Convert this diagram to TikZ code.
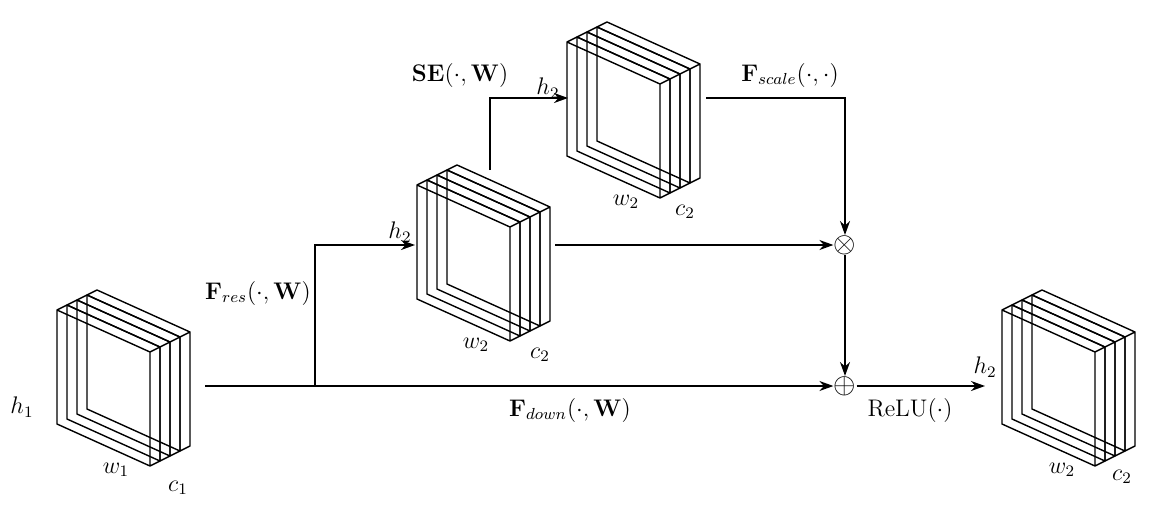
\documentclass[tikz,border=0pt]{standalone}
\usepackage{amsmath,amssymb}
\usetikzlibrary{arrows.meta}
\begin{document}
\begin{tikzpicture}[x=0.5pt,y=-0.5pt,
  ln/.style={line width=0.9pt},
  arr/.style={ln,-{Stealth[length=7pt,width=5pt]}},
  lab/.style={inner sep=1pt,font=\large},
  op/.style={inner sep=0pt,font=\Large}]
\useasboundingbox (0,0) rectangle (1150,504);
\newcommand{\slab}[2]{% top-left of front face
  \draw[line width=0.7pt,line join=round] (#1,#2) -- ++(93,42) -- ++(0,114) -- ++(-93,-42) -- cycle
    (#1,#2) -- ++(10,-5) -- ++(93,42) -- ++(-10,5)
    (#1+103,#2+37) -- ++(0,114) -- ++(-10,5);}
\newcommand{\stack}[2]{%
  \foreach \k in {3,2,1,0}{\slab{#1+2+10*\k}{#2+20-5*\k}}}
\stack{55}{290}
\stack{415}{165}
\stack{565}{22}
\stack{1000}{290}
\node[lab] (h1) at (22,407) {$h_1$};
\node[lab] (w1) at (116,470) {$w_1$};
\node[lab] (c1) at (178,488) {$c_1$};
\node[lab] (h2a) at (400,232) {$h_2$};
\node[lab] (w2a) at (476,345) {$w_2$};
\node[lab] (c2a) at (540,355) {$c_2$};
\node[lab] (h2b) at (548,88) {$h_2$};
\node[lab] (w2b) at (626,202) {$w_2$};
\node[lab] (c2b) at (685,212) {$c_2$};
\node[lab] (h2c) at (985,367) {$h_2$};
\node[lab] (w2c) at (1062,470) {$w_2$};
\node[lab] (c2c) at (1122,477) {$c_2$};
\node[op] (mul) at (845,245) {$\otimes$};
\node[op] (add) at (845,386) {$\oplus$};
\coordinate (s1) at (205,386);
\coordinate (j1) at (315,386);
\coordinate (in2) at (415,245);
\coordinate (out2) at (555,245);
\coordinate (top2) at (490,170);
\coordinate (in3) at (568,98);
\coordinate (out3) at (706,98);
\coordinate (in4) at (985,386);
\draw[arr] (s1) -- (add);
\draw[arr] (j1) |- (in2);
\draw[arr] (top2) |- (in3);
\draw[arr] (out2) -- (mul);
\draw[arr] (out3) -| (mul);
\draw[arr] (mul) -- (add);
\draw[arr] (add) -- (in4);
\node[lab] (fres) at (258,293) {$\mathbf{F}_{res}(\cdot,\mathbf{W})$};
\node[lab] (fdown) at (570,410) {$\mathbf{F}_{down}(\cdot,\mathbf{W})$};
\node[lab] (se) at (460,75) {$\mathbf{SE}(\cdot,\mathbf{W})$};
\node[lab] (fsc) at (790,75) {$\mathbf{F}_{scale}(\cdot,\cdot)$};
\node[lab] (relu) at (910,410) {$\mathrm{ReLU}(\cdot)$};
\end{tikzpicture}
\end{document}
